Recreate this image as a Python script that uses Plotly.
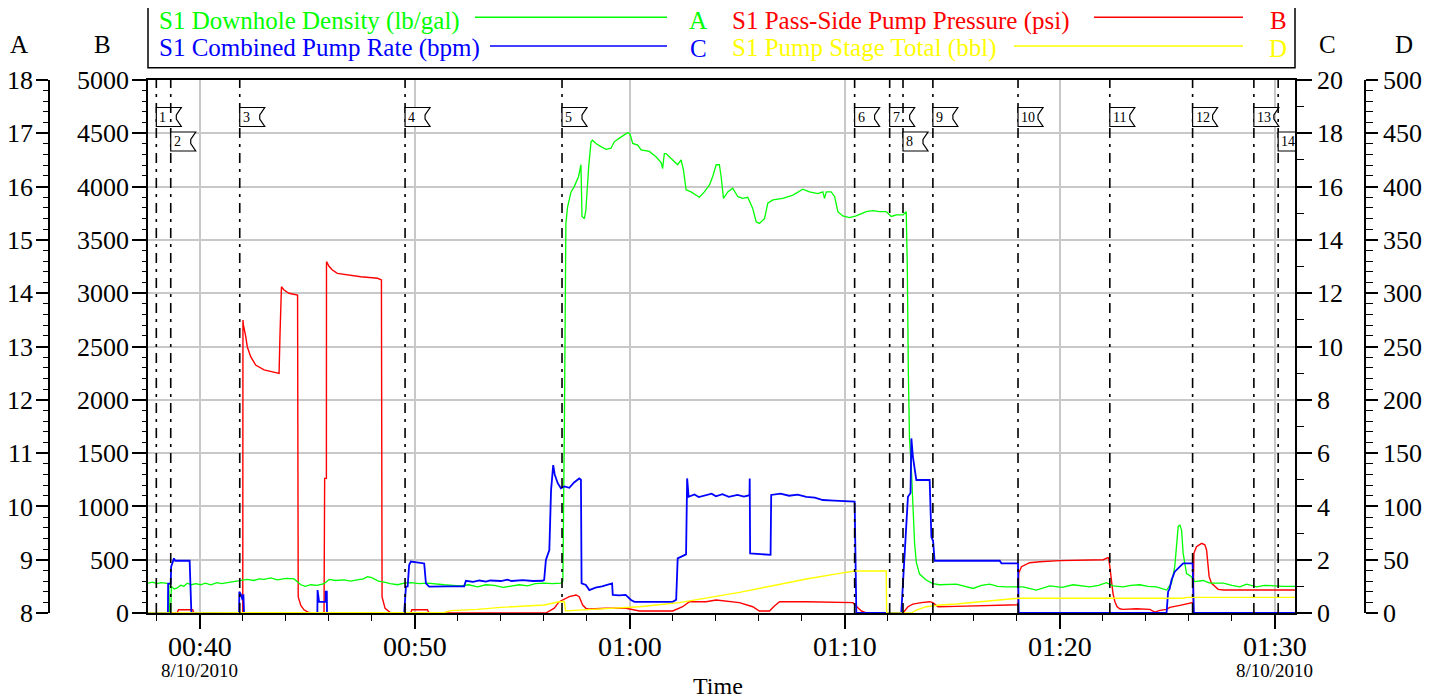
import numpy as np
import pandas as pd
import plotly.graph_objects as go

# ---------------- data (time in minutes after midnight, 8/10/2010) ----------------
density_t = [37.58, 37.80, 38.00, 38.20, 38.40, 38.55, 38.58, 38.64, 38.67, 38.80, 38.94, 39.10, 39.25, 39.41,
             39.60, 39.80, 40.03, 40.25, 40.50, 40.80, 41.00, 41.27, 41.55, 41.89, 42.20, 42.51, 42.75, 42.98,
             43.30, 43.60, 44.00, 44.38, 44.55, 44.69, 44.90, 45.15, 45.45, 45.77, 46.01, 46.30, 46.70, 47.00,
             47.32, 47.60, 47.79, 47.95, 48.10, 48.30, 48.57, 48.85, 49.19, 49.50, 49.81, 50.20, 50.58, 50.95,
             51.36, 51.75, 52.14, 52.50, 52.91, 53.30, 53.69, 54.10, 54.46, 54.85, 55.24, 55.60, 56.01, 56.40,
             56.79, 56.88, 56.95, 56.99, 57.02, 57.10, 57.26, 57.41, 57.61, 57.72, 57.75, 57.77, 57.88, 57.95,
             58.08, 58.19, 58.26, 58.42, 58.65, 58.89, 59.12, 59.27, 59.51, 59.74, 59.89, 60.00, 60.13, 60.36,
             60.52, 60.90, 61.21, 61.45, 61.52, 61.60, 61.68, 61.83, 62.07, 62.22, 62.38, 62.49, 62.61, 62.84,
             63.23, 63.46, 63.70, 63.85, 64.01, 64.16, 64.24, 64.35, 64.55, 64.78, 65.02, 65.25, 65.48, 65.71,
             65.87, 66.02, 66.26, 66.41, 66.65, 67.11, 67.58, 68.04, 68.35, 68.74, 68.97, 69.05, 69.13, 69.36,
             69.52, 69.67, 69.90, 70.21, 70.52, 70.99, 71.30, 71.61, 71.92, 72.15, 72.39, 72.70, 72.85, 72.90,
             72.95, 73.00, 73.09, 73.16, 73.24, 73.32, 73.47, 73.78, 74.09, 74.40, 74.56, 75.18, 75.96, 76.35,
             76.73, 77.10, 77.51, 78.28, 78.90, 79.53, 80.10, 80.61, 81.39, 81.80, 82.16, 82.47, 82.94, 83.30,
             83.72, 84.10, 84.49, 84.96, 85.19, 85.34, 85.50, 85.58, 85.66, 85.73, 85.89, 86.12, 86.28, 86.66,
             86.97, 87.60, 88.00, 88.37, 88.68, 89.15, 89.50, 89.92, 90.40, 90.93]
density_v = [8.56, 8.58, 8.55, 8.57, 8.56, 8.55, 8.00, 8.00, 8.50, 8.45, 8.47, 8.52, 8.50, 8.56,
             8.53, 8.55, 8.53, 8.56, 8.53, 8.57, 8.55, 8.57, 8.59, 8.61, 8.63, 8.61, 8.64, 8.63,
             8.66, 8.62, 8.65, 8.64, 8.58, 8.53, 8.50, 8.53, 8.52, 8.55, 8.63, 8.61, 8.62, 8.60,
             8.62, 8.64, 8.68, 8.67, 8.64, 8.60, 8.58, 8.55, 8.53, 8.56, 8.57, 8.55, 8.56, 8.54,
             8.53, 8.52, 8.51, 8.53, 8.49, 8.53, 8.52, 8.48, 8.50, 8.53, 8.51, 8.55, 8.56, 8.55,
             8.56, 8.60, 11.50, 13.37, 15.31, 15.62, 15.90, 16.00, 16.19, 16.41, 16.00, 15.44, 15.40, 15.56,
             16.37, 16.84, 16.87, 16.81, 16.75, 16.70, 16.72, 16.84, 16.91, 16.97, 17.01, 16.99, 16.81, 16.78,
             16.69, 16.66, 16.56, 16.45, 16.34, 16.62, 16.62, 16.56, 16.47, 16.41, 16.50, 16.31, 15.94, 15.90,
             15.80, 15.90, 16.03, 16.19, 16.41, 16.41, 16.19, 15.78, 15.90, 15.97, 15.81, 15.78, 15.80, 15.59,
             15.34, 15.31, 15.40, 15.69, 15.75, 15.78, 15.84, 15.95, 15.90, 15.87, 15.90, 15.78, 15.90, 15.90,
             15.81, 15.53, 15.45, 15.42, 15.45, 15.53, 15.55, 15.53, 15.53, 15.44, 15.47, 15.47, 15.53, 14.50,
             12.50, 11.30, 10.70, 9.90, 9.30, 8.95, 8.73, 8.62, 8.55, 8.53, 8.53, 8.54, 8.46, 8.52,
             8.54, 8.50, 8.49, 8.49, 8.43, 8.51, 8.48, 8.53, 8.49, 8.52, 8.57, 8.51, 8.49, 8.52,
             8.53, 8.50, 8.49, 8.43, 8.56, 8.87, 9.62, 9.65, 9.55, 9.12, 8.74, 8.68, 8.59, 8.61,
             8.56, 8.56, 8.52, 8.49, 8.54, 8.49, 8.52, 8.51, 8.50, 8.50]

rate_t = [37.58, 38.51, 38.52, 38.64, 38.66, 38.79, 38.85, 39.52, 39.60, 41.82, 41.83, 41.90, 41.98, 42.02,
          42.05, 45.46, 45.47, 45.54, 45.84, 45.85, 45.90, 45.91, 49.50, 49.58, 49.66, 49.73, 49.81, 50.10,
          50.43, 50.51, 50.66, 51.50, 52.29, 52.37, 52.70, 53.00, 53.30, 53.50, 54.00, 54.30, 54.50, 55.00,
          55.50, 55.94, 56.01, 56.09, 56.25, 56.33, 56.43, 56.50, 56.64, 56.79, 56.95, 57.18, 57.40, 57.64,
          57.72, 57.75, 57.95, 58.11, 58.40, 58.70, 59.17, 59.20, 59.50, 59.80, 60.05, 60.21, 61.99, 62.15,
          62.22, 62.61, 62.66, 62.73, 63.00, 63.20, 63.50, 63.80, 64.00, 64.30, 64.60, 65.00, 65.30, 65.56,
          65.57, 65.59, 66.54, 66.57, 67.00, 67.40, 67.80, 68.20, 68.60, 68.97, 69.50, 70.00, 70.37, 70.45,
          70.53, 72.62, 72.85, 72.93, 73.05, 73.09, 73.16, 73.25, 73.32, 73.94, 74.02, 74.10, 74.17, 77.20,
          77.28, 78.05, 78.08, 84.96, 85.03, 85.10, 85.19, 85.34, 85.58, 85.73, 86.17, 86.23, 90.93]
rate_v = [0.00, 0.00, 1.10, 1.10, 1.74, 2.05, 1.96, 1.96, 0.00, 0.00, 0.80, 0.70, 0.49, 0.70,
          0.00, 0.00, 0.86, 0.42, 0.42, 0.80, 0.80, 0.00, 0.00, 0.99, 1.00, 1.80, 1.93, 1.90,
          1.86, 1.11, 0.99, 1.00, 1.00, 1.21, 1.17, 1.22, 1.18, 1.22, 1.20, 1.25, 1.20, 1.23,
          1.20, 1.21, 1.24, 1.99, 2.36, 4.60, 5.55, 5.20, 4.87, 4.68, 4.75, 4.70, 4.90, 5.05,
          5.00, 1.11, 1.05, 0.86, 0.95, 1.00, 1.11, 0.68, 0.66, 0.68, 0.49, 0.42, 0.42, 0.50,
          2.05, 2.20, 5.05, 4.36, 4.45, 4.35, 4.42, 4.48, 4.38, 4.46, 4.36, 4.43, 4.37, 4.42,
          5.05, 2.24, 2.18, 4.43, 4.48, 4.40, 4.44, 4.36, 4.33, 4.24, 4.22, 4.19, 4.18, 4.18,
          0.00, 0.00, 3.24, 4.36, 4.50, 6.55, 5.87, 5.40, 4.99, 4.99, 2.86, 2.70, 1.96, 1.96,
          1.86, 1.86, 0.00, 0.00, 0.80, 0.90, 1.24, 1.55, 1.76, 1.86, 1.86, 0.00, 0.00]

pressure_t = [37.58, 38.94, 39.00, 39.66, 39.72, 41.99, 42.00, 42.02, 42.13, 42.20, 42.36, 42.59, 42.98,
              43.29, 43.68, 43.72, 43.79, 43.91, 44.14, 44.54, 44.57, 44.69, 44.84, 45.00, 45.15, 45.77,
              45.80, 45.88, 45.885, 46.01, 46.16, 46.39, 46.70, 47.48, 48.26, 48.44, 48.47, 48.61, 48.88,
              49.81, 49.85, 50.58, 50.65, 56.09, 56.48, 56.71, 57.18, 57.49, 57.64, 57.80, 57.95, 58.11,
              58.89, 59.82, 60.44, 61.99, 62.45, 62.77, 63.54, 64.01, 65.09, 65.71, 66.02, 66.49, 66.72,
              66.96, 68.20, 69.75, 70.37, 70.52, 70.76, 70.99, 72.70, 72.93, 73.16, 73.55, 73.94, 74.09,
              74.33, 75.18, 76.73, 78.05, 78.08, 78.21, 78.59, 79.06, 79.99, 81.39, 82.01, 82.24, 82.27,
              82.33, 82.40, 82.47, 82.55, 82.65, 82.78, 82.94, 83.56, 84.18, 84.41, 84.65, 84.96, 85.11,
              85.58, 86.12, 86.20, 86.23, 86.35, 86.59, 86.74, 86.82, 86.94, 87.05, 87.36, 87.60, 90.93]
pressure_v = [0, 0, 31, 31, 0, 0, 2749, 2702, 2592, 2498, 2405, 2326, 2280,
              2265, 2248, 2592, 3061, 3030, 2999, 2983, 150, 70, 30, 10, 0, 0,
              1263, 1263, 3296, 3250, 3218, 3186, 3176, 3155, 3140, 3124, 150, 44, 0,
              0, 30, 30, 0, 0, 45, 106, 153, 169, 153, 75, 44, 37,
              44, 44, 19, 19, 59, 106, 106, 122, 97, 59, 19, 19, 66,
              106, 106, 97, 97, 66, 19, 0, 0, 59, 84, 97, 106, 97,
              59, 62, 72, 78, 372, 434, 472, 481, 491, 497, 500, 519, 510,
              420, 300, 180, 110, 60, 40, 34, 40, 34, 9, 25, 34, 53,
              72, 94, 100, 560, 622, 653, 640, 591, 341, 279, 222, 216, 216]

stage_t = [37.58, 51.00, 51.36, 51.67, 52.91, 53.99, 55.24, 56.02, 56.71, 56.87, 56.95, 57.00, 60.44,
           62.30, 63.54, 65.09, 66.64, 68.20, 69.75, 70.45, 71.92, 71.94, 73.09, 73.32, 73.78, 74.41,
           75.18, 75.96, 76.73, 77.51, 78.05, 85.73, 85.89, 90.93]
stage_v = [0, 0, 0.5, 2.2, 3.4, 5.3, 6.9, 7.5, 10.6, 10.6, 10.8, 2.0, 5.9,
           9.7, 13.8, 19.4, 25.6, 31.9, 37.2, 39.4, 39.4, 0, 0, 2.8, 5.9, 7.5,
           8.4, 9.7, 11.6, 12.8, 13.8, 13.8, 14.7, 14.7]

event_t = [37.97, 38.64, 41.85, 49.54, 56.84, 70.45, 72.08, 72.70, 74.09, 78.05, 82.32, 86.17, 89.02, 90.15]
event_labels = ["1", "2", "3", "4", "5", "6", "7", "8", "9", "10", "11", "12", "13", "14"]
event_row = [0, 1, 0, 0, 0, 0, 0, 1, 0, 0, 0, 0, 0, 1]

x_range_min = [37.583, 90.933]
x_tick_date_min = [40.0, 90.0]

series_names = ["S1 Downhole Density (lb/gal)", "S1 Pass-Side Pump Pressure (psi)",
                "S1 Combined Pump Rate (bpm)", "S1 Pump Stage Total (bbl)"]
series_letters = ["A", "B", "C", "D"]
series_colors = ["#00ff00", "#ff0000", "#0000ff", "#ffff00"]

# ---------------- helpers ----------------
BASE = pd.Timestamp("2010-08-10")


def to_time(mins):
    return BASE + pd.to_timedelta(np.asarray(mins, dtype=float), unit="m")


def tstr(m):
    return (BASE + pd.to_timedelta(float(m), unit="m")).strftime("%Y-%m-%d %H:%M:%S.%f")


OFF = 8                      # page body margin
W, H = 1435 - OFF, 698 - OFF
PL, PR, PT, PB = 148, 1295, 80, 613  # plot area in screen pixels
FONT = "Liberation Serif, Times New Roman, serif"


def px(x):
    return (x - OFF) / W


def py(y):
    return (PB - y) / (PB - PT)


fig = go.Figure()

fig.add_trace(go.Scatter(x=to_time(pressure_t), y=pressure_v, mode="lines", yaxis="y",
                         line=dict(color=series_colors[1], width=1.4), name=series_names[1], showlegend=False))
fig.add_trace(go.Scatter(x=to_time(density_t), y=density_v, mode="lines", yaxis="y2",
                         line=dict(color=series_colors[0], width=1.3), name=series_names[0], showlegend=False))
fig.add_trace(go.Scatter(x=to_time(rate_t), y=rate_v, mode="lines", yaxis="y3",
                         line=dict(color=series_colors[2], width=1.8), name=series_names[2], showlegend=False))
fig.add_trace(go.Scatter(x=to_time(stage_t), y=stage_v, mode="lines", yaxis="y4",
                         line=dict(color=series_colors[3], width=1.4), name=series_names[3], showlegend=False))

shapes = []
annotations = []

# event lines and flags
for m, lab, row in zip(event_t, event_labels, event_row):
    ts = tstr(m)
    shapes.append(dict(type="line", xref="x", yref="paper", x0=ts, x1=ts, y0=0, y1=1,
                       line=dict(color="black", width=1.6, dash="10px,6px,3px,6px"), layer="above"))
    top = -27.5 - row * 24.5
    bot = top - 19
    mid = (top + bot) / 2
    w = 25
    path = f"M0,{top} L{w},{top} L{w-5},{mid+2} L{w-5},{mid-2} L{w},{bot} L0,{bot} Z"
    shapes.append(dict(type="path", xref="x", yref="paper", xsizemode="pixel", ysizemode="pixel",
                       xanchor=ts, yanchor=1, path=path, fillcolor="white",
                       line=dict(color="black", width=1.2), layer="above"))
    annotations.append(dict(x=ts, y=1, xref="x", yref="paper", xanchor="left", yanchor="middle",
                            xshift=1, yshift=mid, text=lab, showarrow=False,
                            font=dict(family=FONT, size=14, color="black")))

# legend box (built by hand to mirror the original layout)
shapes.append(dict(type="rect", xref="paper", yref="paper", x0=px(PL), x1=px(PR), y0=py(67.7), y1=py(6),
                   line=dict(color="black", width=1.5), fillcolor="rgba(0,0,0,0)"))
leg_text_x = [157, 730, 157, 730]
leg_text_y = [21, 21, 48, 48]
leg_line_x = [(475, 667), (1094, 1243), (490, 667), (1014, 1243)]
leg_line_y = [17.3, 17.3, 46, 46]
leg_letter_x = [698, 1278, 698, 1278]
for i in range(4):
    col = series_colors[i]
    annotations.append(dict(x=px(leg_text_x[i]), y=py(leg_text_y[i]), xref="paper", yref="paper",
                            xanchor="left", yanchor="middle", text=series_names[i], showarrow=False,
                            font=dict(family=FONT, size=25, color=col)))
    shapes.append(dict(type="line", xref="paper", yref="paper", x0=px(leg_line_x[i][0]), x1=px(leg_line_x[i][1]),
                       y0=py(leg_line_y[i]), y1=py(leg_line_y[i]), line=dict(color=col, width=1.5)))
    annotations.append(dict(x=px(leg_letter_x[i]), y=py(leg_text_y[i]), xref="paper", yref="paper",
                            xanchor="center", yanchor="middle", text=series_letters[i], showarrow=False,
                            font=dict(family=FONT, size=25, color=col)))

# axis letters
for lx, lt in zip([19, 102.5, 1327, 1404], ["A", "B", "C", "D"]):
    annotations.append(dict(x=px(lx), y=py(45), xref="paper", yref="paper", xanchor="center", yanchor="middle",
                            text=lt, showarrow=False, font=dict(family=FONT, size=25, color="black")))

# date under first/last time ticks
for m in x_tick_date_min:
    annotations.append(dict(x=tstr(m), y=py(670), xref="x", yref="paper", xanchor="center", yanchor="middle",
                            text="8/10/2010", showarrow=False, font=dict(family=FONT, size=19, color="black")))
annotations.append(dict(x=px(718), y=py(686), xref="paper", yref="paper", xanchor="center", yanchor="middle",
                        text="Time", showarrow=False, font=dict(family=FONT, size=24, color="black")))

axis_common = dict(showline=True, linecolor="black", linewidth=1.5, ticks="outside", tickcolor="black",
                   tickwidth=1.5, zeroline=False, automargin=False,
                   tickfont=dict(family=FONT, size=26, color="black"))

fig.update_layout(
    template="none",
    width=W, height=H, autosize=False,
    margin=dict(l=0, r=0, t=PT - OFF, b=H - (PB - OFF), pad=0, autoexpand=False),
    paper_bgcolor="white", plot_bgcolor="white",
    showlegend=False,
    xaxis=dict(domain=[px(PL), px(PR)], type="date", range=[tstr(x_range_min[0]), tstr(x_range_min[1])],
               tickformat="%H:%M", dtick=600000, tick0="2010-08-10 00:00:00", automargin=False,
               showgrid=True, gridcolor="#c8c8c8", gridwidth=1.5,
               showline=True, linecolor="black", linewidth=1.5, mirror=True,
               ticks="outside", ticklen=14, tickcolor="black", tickwidth=1.5, ticklabelstandoff=-6,
               minor=dict(dtick=120000, ticklen=6, tickcolor="black", tickwidth=1.2, showgrid=False),
               tickfont=dict(family=FONT, size=28, color="black"), zeroline=False),
    yaxis=dict(range=[0, 5000], dtick=500, side="left", anchor="x", showgrid=True, gridcolor="#c8c8c8",
               gridwidth=1.5, ticklen=14, ticklabelstandoff=-2,
               minor=dict(dtick=100, ticklen=4, tickcolor="black", tickwidth=1.2, showgrid=False),
               **axis_common),
    yaxis2=dict(range=[8, 18], dtick=1, side="left", overlaying="y", anchor="free", position=px(49),
                showgrid=False, ticklen=12, ticklabelstandoff=-2,
                minor=dict(dtick=0.2, ticklen=5, tickcolor="black", tickwidth=1.2, showgrid=False),
                **axis_common),
    yaxis3=dict(range=[0, 20], dtick=2, side="right", overlaying="y", anchor="x", showgrid=False, ticklen=15,
                minor=dict(dtick=1, ticklen=7, tickcolor="black", tickwidth=1.2, showgrid=False),
                **axis_common),
    yaxis4=dict(range=[0, 500], dtick=50, side="right", overlaying="y", anchor="free", position=px(1365),
                showgrid=False, ticklen=12,
                minor=dict(dtick=10, ticklen=7, tickcolor="black", tickwidth=1.2, showgrid=False),
                **axis_common),
    shapes=shapes,
    annotations=annotations,
)

fig.write_html("out.html")
